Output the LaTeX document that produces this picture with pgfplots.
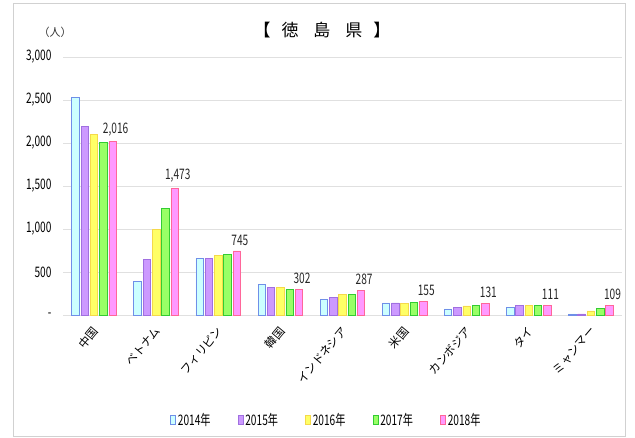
\documentclass[border=0pt]{standalone}
\usepackage{fontspec}
\usepackage{pgfplots}
\pgfplotsset{compat=1.18}
\setmainfont{Noto Sans CJK JP}
\newfontfamily\nar[FakeStretch=0.7]{Noto Sans CJK JP}

\definecolor{c14}{HTML}{CCFFFF}\definecolor{e14}{HTML}{6F8FE8}
\definecolor{c15}{HTML}{CC99FF}\definecolor{e15}{HTML}{A070E0}
\definecolor{c16}{HTML}{FFFF66}\definecolor{e16}{HTML}{F5D94A}
\definecolor{c17}{HTML}{99FF66}\definecolor{e17}{HTML}{33CC33}
\definecolor{c18}{HTML}{FF99FF}\definecolor{e18}{HTML}{FF6699}

\begin{document}
\begin{tikzpicture}[x=1pt,y=1pt]
  \useasboundingbox (0,0) rectangle (635,437);
  \draw[black!18, line width=1pt] (13,1) rectangle (625,433);
  \begin{axis}[
      at={(63pt,122pt)}, anchor=south west,
      scale only axis, width=559pt, height=258pt,
      ybar=1.8pt, bar width=7.5pt,
      xmin=-0.5, xmax=8.5, ymin=0, ymax=3000,
      xtick={0,...,8},
      xticklabels={中国,ベトナム,フィリピン,韓国,インドネシア,米国,カンボジア,タイ,ミャンマー},
      x tick label style={yshift=-11pt, xshift=4pt, rotate=50, anchor=east,
                          font=\fontsize{11.5}{12}\selectfont},
      ytick={0,500,...,3000},
      yticklabels={-,500,{1,000},{1,500},{2,000},{2,500},{3,000}},
      y tick label style={font=\nar\fontsize{14.5}{14.5}\selectfont, xshift=-8pt},
      major tick length=0pt,
      axis line style={draw=none},
      ymajorgrids, major grid style={draw=black!12, line width=0.9pt},
      /pgf/number format/assume math mode=true,
      /pgf/number format/1000 sep={,},
      legend style={at={(0.471,-0.407)}, anchor=center, draw=none,
                    legend columns=-1, font=\nar\fontsize{14.5}{14.5}\selectfont,
                    /tikz/every even column/.append style={column sep=25pt}},
      legend image code/.code={\draw[#1, line width=0.8pt] (0pt,-4pt) rectangle (5pt,5pt);},
    ]
    \addplot[fill=c14, draw=e14, line width=0.8pt] coordinates
      {(0,2530) (1,395) (2,655) (3,360) (4,182) (5,140) (6,70) (7,93) (8,12)};
    \addplot[fill=c15, draw=e15, line width=0.8pt] coordinates
      {(0,2190) (1,643) (2,659) (3,318) (4,201) (5,140) (6,93) (7,116) (8,12)};
    \addplot[fill=c16, draw=e16, line width=0.8pt] coordinates
      {(0,2101) (1,997) (2,694) (3,322) (4,244) (5,136) (6,105) (7,114) (8,47)};
    \addplot[fill=c17, draw=e17, line width=0.8pt] coordinates
      {(0,2003) (1,1236) (2,706) (3,298) (4,240) (5,148) (6,116) (7,110) (8,78)};
    \addplot[fill=c18, draw=e18, line width=0.8pt,
             nodes near coords,
             nodes near coords style={font=\nar\fontsize{14.5}{14.5}\selectfont,
                                      anchor=south, xshift=3pt, yshift=2pt, text=black!85}]
      coordinates
      {(0,2016) (1,1473) (2,745) (3,302) (4,287) (5,155) (6,131) (7,111) (8,109)};
    \legend{2014年,2015年,2016年,2017年,2018年}
  \end{axis}
  \node[font=\fontsize{17}{17}\selectfont] at (322,407)
    {【\hspace{11pt}徳\hspace{15pt}島\hspace{15pt}県\hspace{11pt}】};
  \node[font=\fontsize{11}{11}\selectfont, text=black!80] at (55,405) {（人）};
\end{tikzpicture}
\end{document}
